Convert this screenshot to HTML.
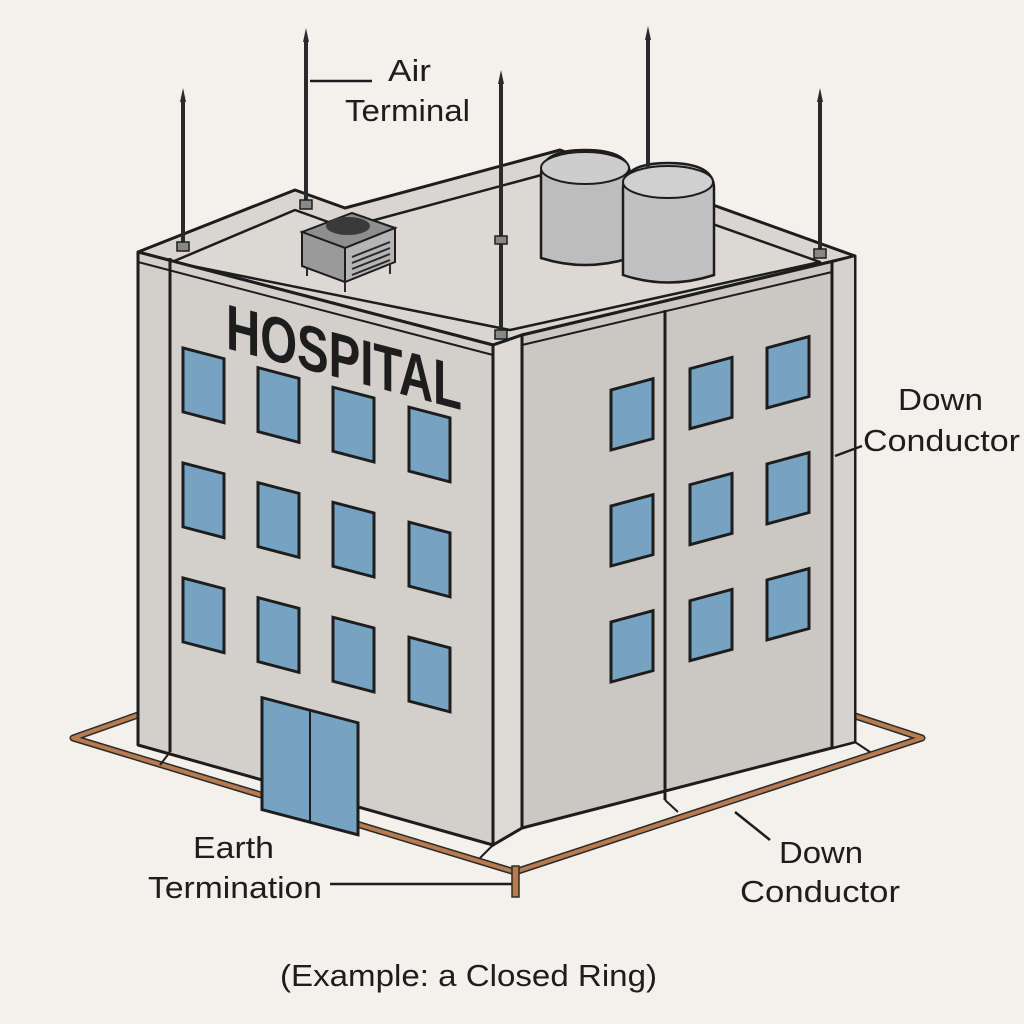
<!DOCTYPE html>
<html><head><meta charset="utf-8"><style>
html,body{margin:0;padding:0;background:#f4f1ec;}
svg{display:block;}
text{font-family:"Liberation Sans",sans-serif;fill:#1d1d1d;}
</style></head><body>
<svg width="1024" height="1024" viewBox="0 0 1024 1024" xmlns="http://www.w3.org/2000/svg">
<rect width="1024" height="1024" fill="#f4f1ec"/>

<g fill="none" stroke="#2a2a2a" stroke-width="7" stroke-linejoin="round">
<polyline points="138,715 73,738 515,872 922,738 855,716"/>
</g>
<g fill="none" stroke="#b87a4f" stroke-width="4" stroke-linejoin="round">
<polyline points="138,715 73,738 515,872 922,738 855,716"/>
</g>

<polygon points="138,252 295,190 345,208 560,150 855,256 522,335 493,345" fill="#d9d6d1" stroke="#1d1d1d" stroke-width="3" stroke-linejoin="round"/>
<polygon points="172,262 295,210 345,228 560,170 820,262 510,330" fill="#dcd9d4" stroke="#1d1d1d" stroke-width="2.5" stroke-linejoin="round"/>

<polygon points="302,232 352,213 395,228 345,248" fill="#8e8e8e" stroke="#1d1d1d" stroke-width="2"/>
<polygon points="302,232 345,248 345,282 302,266" fill="#9a9a9a" stroke="#1d1d1d" stroke-width="2"/>
<polygon points="345,248 395,228 395,262 345,282" fill="#b5b5b5" stroke="#1d1d1d" stroke-width="2"/>
<ellipse cx="348" cy="226" rx="22" ry="9" fill="#3a3a3a"/>
<g stroke="#2a2a2a" stroke-width="2"><line x1="352" y1="257" x2="390" y2="242"/><line x1="352" y1="263" x2="390" y2="248"/><line x1="352" y1="269" x2="390" y2="254"/><line x1="352" y1="275" x2="390" y2="260"/>
<line x1="307" y1="268" x2="307" y2="276"/><line x1="345" y1="282" x2="345" y2="292"/><line x1="390" y1="264" x2="390" y2="274"/></g>

<path d="M541,175 Q541,150 585,150 Q630,150 630,175 L630,258 Q585,272 541,258 Z" fill="#bdbdbd" stroke="#1d1d1d" stroke-width="2.5"/>
<ellipse cx="585" cy="168" rx="44" ry="16" fill="#cdcdcd" stroke="#1d1d1d" stroke-width="2"/>
<path d="M623,188 Q623,163 668,163 Q714,163 714,188 L714,275 Q668,290 623,275 Z" fill="#c1c1c1" stroke="#1d1d1d" stroke-width="2.5"/>
<ellipse cx="668" cy="182" rx="45" ry="16" fill="#d0d0d0" stroke="#1d1d1d" stroke-width="2"/>

<polygon points="138,252 493,345 493,845 138,745" fill="#d3d0cc" stroke="#1d1d1d" stroke-width="3" stroke-linejoin="round"/>
<polygon points="493,345 522,335 522,828 493,845" fill="#dedbd6" stroke="#1d1d1d" stroke-width="3"/>
<polygon points="522,335 855,256 855,742 522,828" fill="#cbc7c2" stroke="#1d1d1d" stroke-width="3" stroke-linejoin="round"/>
<polygon points="832,262 855,256 855,742 832,748" fill="#d6d3ce" stroke="#1d1d1d" stroke-width="2"/>
<line x1="138" y1="262" x2="493" y2="355" stroke="#1d1d1d" stroke-width="2"/>
<line x1="522" y1="345" x2="832" y2="272" stroke="#1d1d1d" stroke-width="2"/>

<g stroke="#1d1d1d" stroke-width="3">
<line x1="170" y1="258" x2="170" y2="752"/>
<line x1="493" y1="345" x2="493" y2="845"/>
<line x1="665" y1="310" x2="665" y2="800"/>
<line x1="832" y1="262" x2="832" y2="748"/>
<line x1="170" y1="752" x2="160" y2="765" stroke-width="2"/>
<line x1="493" y1="845" x2="480" y2="858" stroke-width="2"/>
<line x1="665" y1="800" x2="678" y2="812" stroke-width="2"/>
<line x1="855" y1="742" x2="870" y2="752" stroke-width="2"/>
</g>

<g transform="matrix(1,0.262,0,1,0,0)">
<text x="226" y="289" font-size="64" font-weight="bold" textLength="236" lengthAdjust="spacingAndGlyphs" fill="#2a2d2f">HOSPITAL</text>
<g fill="#75a3c1" stroke="#1d1d1d" stroke-width="3">
<rect x="183" y="300" width="41" height="64"/><rect x="258" y="300" width="41" height="64"/><rect x="333" y="300" width="41" height="64"/><rect x="409" y="300" width="41" height="64"/>
<rect x="183" y="415" width="41" height="64"/><rect x="258" y="415" width="41" height="64"/><rect x="333" y="415" width="41" height="64"/><rect x="409" y="415" width="41" height="64"/>
<rect x="183" y="530" width="41" height="64"/><rect x="258" y="530" width="41" height="64"/><rect x="333" y="530" width="41" height="64"/><rect x="409" y="530" width="41" height="64"/>
<rect x="262" y="629" width="96" height="112"/>
</g>
<line x1="310" y1="629" x2="310" y2="741" stroke="#1d1d1d" stroke-width="2"/>
</g>

<g transform="matrix(1,-0.27,0,1,0,0)">
<g fill="#75a3c1" stroke="#1d1d1d" stroke-width="3">
<rect x="611" y="555" width="42" height="60"/><rect x="690" y="555" width="42" height="60"/><rect x="767" y="555" width="42" height="60"/>
<rect x="611" y="671" width="42" height="60"/><rect x="690" y="671" width="42" height="60"/><rect x="767" y="671" width="42" height="60"/>
<rect x="611" y="787" width="42" height="60"/><rect x="690" y="787" width="42" height="60"/><rect x="767" y="787" width="42" height="60"/>
</g></g>

<g stroke="#2a2a2a" stroke-width="4">
<line x1="183" y1="100" x2="183" y2="248"/>
<line x1="306" y1="40" x2="306" y2="205"/>
<line x1="501" y1="80" x2="501" y2="335"/>
<line x1="648" y1="38" x2="648" y2="168"/>
<line x1="820" y1="100" x2="820" y2="255"/>
</g>
<g fill="#2a2a2a">
<polygon points="183,88 180,102 186,102"/><polygon points="306,28 303,42 309,42"/><polygon points="501,70 498,84 504,84"/><polygon points="648,26 645,40 651,40"/><polygon points="820,88 817,102 823,102"/>
</g>
<g fill="#888" stroke="#1d1d1d" stroke-width="1.5">
<rect x="177" y="242" width="12" height="9"/><rect x="300" y="200" width="12" height="9"/><rect x="495" y="330" width="12" height="9"/><rect x="495" y="236" width="12" height="8"/><rect x="814" y="249" width="12" height="9"/>
</g>

<rect x="512" y="866" width="7" height="31" fill="#b87a4f" stroke="#2a2a2a" stroke-width="1.5"/>

<g stroke="#1d1d1d" stroke-width="2.5" fill="none">
<line x1="310" y1="81" x2="372" y2="81"/>
<line x1="835" y1="456" x2="862" y2="446"/>
<line x1="330" y1="884" x2="512" y2="884"/>
<line x1="735" y1="812" x2="770" y2="840"/>
</g>

<g font-size="31">
<text x="388" y="81" textLength="43" lengthAdjust="spacingAndGlyphs">Air</text>
<text x="345" y="121" textLength="125" lengthAdjust="spacingAndGlyphs">Terminal</text>
<text x="898" y="410" textLength="85" lengthAdjust="spacingAndGlyphs">Down</text>
<text x="863" y="451" textLength="157" lengthAdjust="spacingAndGlyphs">Conductor</text>
<text x="193" y="858" textLength="81" lengthAdjust="spacingAndGlyphs">Earth</text>
<text x="148" y="898" textLength="174" lengthAdjust="spacingAndGlyphs">Termination</text>
<text x="779" y="863" textLength="84" lengthAdjust="spacingAndGlyphs">Down</text>
<text x="740" y="902" textLength="160" lengthAdjust="spacingAndGlyphs">Conductor</text>
<text x="280" y="986" textLength="377" lengthAdjust="spacingAndGlyphs">(Example: a Closed Ring)</text>
</g>
</svg>
</body></html>
